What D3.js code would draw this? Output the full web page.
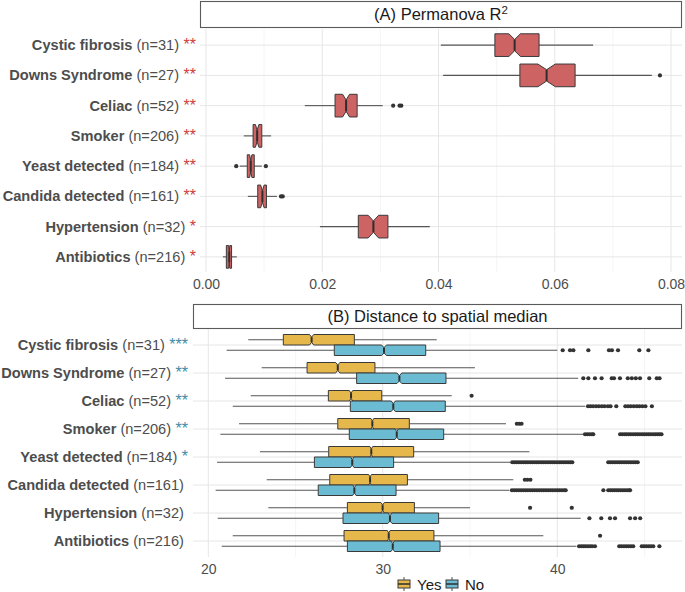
<!DOCTYPE html>
<html>
<head>
<meta charset="utf-8">
<script src="https://cdn.jsdelivr.net/npm/d3@7"></script>
<style>
  html, body { margin: 0; padding: 0; background: #fff; }
  svg { display: block; font-family: "Liberation Sans", Arial, Helvetica, sans-serif; }
</style>
</head>
<body>
<svg id="chart" width="685" height="592"></svg>
<script>
// ---------- data ----------
const categories = ["Cystic fibrosis", "Downs Syndrome", "Celiac", "Smoker", "Yeast detected", "Candida detected", "Hypertension", "Antibiotics"];
const sampleN = [31, 27, 52, 206, 184, 161, 32, 216];
const starsA = ["**", "**", "**", "**", "**", "**", "*", "*"];
const starsB = ["***", "**", "**", "**", "*", "", "", ""];

// Panel A: Permanova R^2 (box stats)
const r2WhiskLo = [0.0404, 0.0408, 0.0170, 0.0065, 0.0058, 0.0072, 0.0196, 0.0029];
const r2Q1      = [0.0497, 0.0540, 0.0222, 0.0081, 0.0071, 0.0089, 0.0262, 0.0035];
const r2Median  = [0.0531, 0.0586, 0.0241, 0.0088, 0.0077, 0.0097, 0.0288, 0.0040];
const r2Q3      = [0.0573, 0.0635, 0.0260, 0.0096, 0.0083, 0.0104, 0.0313, 0.0044];
const r2WhiskHi = [0.0666, 0.0767, 0.0304, 0.0112, 0.0096, 0.0122, 0.0385, 0.0053];
const r2Notch   = [0.0010, 0.0015, 0.0006, 0.0003, 0.0002, 0.0003, 0.0009, 0.0001];
const r2Outliers = [[], [0.0781], [0.0322, 0.0333, 0.0336], [], [0.0052, 0.0103], [0.0129, 0.0132], [], []];
const r2Ticks = [0, 0.02, 0.04, 0.06, 0.08];

// Panel B: Distance to spatial median, group "Yes"
const yesWhiskLo = [22.29, 23.06, 22.43, 21.76, 22.96, 23.35, 23.44, 21.40];
const yesQ1      = [24.30, 25.66, 26.88, 27.42, 26.90, 26.96, 27.97, 27.78];
const yesMedian  = [25.92, 27.42, 28.18, 29.40, 29.34, 29.27, 29.99, 30.34];
const yesQ3      = [28.37, 29.55, 29.94, 31.52, 31.77, 31.41, 31.81, 32.93];
const yesWhiskHi = [33.09, 35.28, 33.95, 37.06, 38.40, 37.48, 35.00, 39.20];
const yesNotch   = [0.12, 0.12, 0.10, 0.08, 0.08, 0.08, 0.10, 0.08];
const yesOutliers = [[], [], [35.09], [37.68, 37.82, 37.95], [], [38.14, 38.29, 38.46], [38.44, 40.83], [42.45]];

// Panel B: group "No"
const noWhiskLo = [21.05, 20.96, 21.40, 20.69, 20.50, 20.42, 20.54, 20.77];
const noQ1      = [27.22, 28.50, 28.14, 28.08, 26.08, 26.30, 27.72, 27.97];
const noMedian  = [30.07, 30.95, 30.60, 30.80, 28.25, 28.37, 30.41, 30.57];
const noQ3      = [32.46, 33.62, 33.58, 33.49, 30.62, 30.76, 33.20, 33.28];
const noWhiskHi = [40.00, 41.20, 41.60, 41.50, 37.30, 37.25, 41.34, 41.10];
const noNotch   = [0.14, 0.14, 0.12, 0.10, 0.10, 0.10, 0.12, 0.10];
const noOutliers = [
  [40.31, 40.73, 40.92, 41.78, 42.96, 43.13, 43.48, 44.70, 45.22],
  [41.49, 41.78, 42.16, 42.54, 43.12, 43.25, 43.59, 44.04, 44.27, 44.50, 44.74, 45.27, 45.70, 45.86],
  [41.76, 41.90, 42.05, 42.22, 42.38, 42.55, 42.71, 42.90, 43.05, 43.38, 43.90, 44.06, 44.21, 44.38, 44.55, 44.70, 44.87, 45.05, 45.42],
  [41.59, 41.72, 41.85, 41.98, 42.06, 43.60, 43.72, 43.85, 43.97, 44.10, 44.22, 44.35, 44.48, 44.60, 44.73, 44.86, 44.98, 45.11, 45.24, 45.36, 45.49, 45.62, 45.74, 45.86, 45.97],
  [37.42, 37.55, 37.68, 37.80, 37.93, 38.06, 38.19, 38.31, 38.44, 38.57, 38.70, 38.83, 38.95, 39.08, 39.21, 39.34, 39.47, 39.60, 39.72, 39.85, 39.98, 40.11, 40.24, 40.37, 40.50, 40.62, 40.75, 40.86,
   42.92, 43.05, 43.18, 43.31, 43.44, 43.57, 43.70, 43.83, 43.96, 44.09, 44.22, 44.35, 44.48, 44.61],
  [37.40, 37.53, 37.66, 37.79, 37.92, 38.05, 38.18, 38.31, 38.44, 38.57, 38.70, 38.83, 38.96, 39.09, 39.22, 39.35, 39.48, 39.61, 39.74, 39.87, 40.00, 40.13, 40.26, 40.39, 40.48,
   42.64, 42.92, 43.04, 43.16, 43.28, 43.40, 43.52, 43.64, 43.76, 43.88, 44.00, 44.12, 44.17],
  [41.84, 42.52, 43.02, 43.31, 44.17, 44.46, 44.75],
  [41.25, 41.38, 41.50, 41.62, 41.75, 41.88, 42.00, 42.16, 43.55, 43.68, 43.82, 43.95, 44.08, 44.22, 44.35, 44.84, 44.97, 45.10, 45.24, 45.37, 45.50, 45.85]
];
const distTicks = [20, 30, 40];
const groups = ["Yes", "No"];

// ---------- styles ----------
const colA = "#CD6363";
const colYes = "#E6B84B";
const colNo = "#6BBCD2";
const starColA = "#CC4040";
const starColB = "#3C8DA8";
const textCol = "#4D4D4D";
const gridMajor = "#E6E6E6";
const gridMinor = "#F2F2F2";
const boxStroke = "#3A3A3A";
const whiskCol = "#555555";

const svg = d3.select("#chart");

function notchedPath(x, q1, q3, med, notch, c, h) {
  const p = d3.path();
  const a = x(q1), b = x(q3), m = x(med);
  const nl = Math.max(a, x(med - notch)), nr = Math.min(b, x(med + notch));
  p.moveTo(a, c - h);
  p.lineTo(nl, c - h);
  p.lineTo(m, c - h / 2);
  p.lineTo(nr, c - h);
  p.lineTo(b, c - h);
  p.lineTo(b, c + h);
  p.lineTo(nr, c + h);
  p.lineTo(m, c + h / 2);
  p.lineTo(nl, c + h);
  p.lineTo(a, c + h);
  p.closePath();
  return p.toString();
}

function drawBox(g, x, s, c, h, fill) {
  g.append("line").attr("x1", x(s.lo)).attr("x2", x(s.q1)).attr("y1", c).attr("y2", c)
    .attr("stroke", whiskCol).attr("stroke-width", 1.1);
  g.append("line").attr("x1", x(s.q3)).attr("x2", x(s.hi)).attr("y1", c).attr("y2", c)
    .attr("stroke", whiskCol).attr("stroke-width", 1.1);
  g.append("path").attr("d", notchedPath(x, s.q1, s.q3, s.med, s.notch, c, h))
    .attr("fill", fill).attr("stroke", boxStroke).attr("stroke-width", 1);
  g.append("line").attr("x1", x(s.med)).attr("x2", x(s.med)).attr("y1", c - h / 2).attr("y2", c + h / 2)
    .attr("stroke", "#2E2E2E").attr("stroke-width", 2);
  s.out.forEach(v => {
    g.append("circle").attr("cx", x(v)).attr("cy", c).attr("r", 2.1).attr("fill", "#333");
  });
}

function drawPanel(opts) {
  const { x, y, left, right, top, bottom, majors, minors } = opts;
  const g = svg.append("g");
  minors.forEach(v => g.append("line").attr("x1", x(v)).attr("x2", x(v)).attr("y1", top).attr("y2", bottom)
    .attr("stroke", gridMinor).attr("stroke-width", 0.8));
  majors.forEach(v => g.append("line").attr("x1", x(v)).attr("x2", x(v)).attr("y1", top).attr("y2", bottom)
    .attr("stroke", gridMajor).attr("stroke-width", 1));
  categories.forEach(cat => g.append("line").attr("x1", left).attr("x2", right)
    .attr("y1", y(cat) + y.bandwidth() / 2).attr("y2", y(cat) + y.bandwidth() / 2)
    .attr("stroke", gridMajor).attr("stroke-width", 1));
  return g;
}

function drawStrip(x0, x1, y0, y1, build) {
  svg.append("rect").attr("x", x0 + 0.5).attr("y", y0 + 0.5).attr("width", x1 - x0 - 1).attr("height", y1 - y0)
    .attr("fill", "#fff").attr("stroke", "#5A5A5A").attr("stroke-width", 1.1);
  const t = svg.append("text").attr("x", (x0 + x1) / 2).attr("y", (y0 + y1) / 2 + 6)
    .attr("text-anchor", "middle").attr("font-size", 16.5).attr("fill", "#1A1A1A");
  build(t);
}

function drawLabels(y, xEnd, stars, starCol) {
  categories.forEach((cat, i) => {
    const t = svg.append("text").attr("x", xEnd).attr("y", y(cat) + y.bandwidth() / 2 + 5)
      .attr("text-anchor", "end").attr("font-size", 14.6).attr("fill", textCol);
    t.append("tspan").attr("font-weight", "bold").text(cat);
    t.append("tspan").text(" (n=" + sampleN[i] + ")");
    if (stars[i]) {
      t.append("tspan").attr("fill", starCol).attr("font-size", 16).text(" " + stars[i]);
    } else {
      t.append("tspan").text("\u00a0");
    }
  });
}

// ---------- Panel A ----------
const xA = d3.scaleLinear().domain([0, 0.08]).range([206, 671]);
const yA = d3.scaleBand().domain(categories).range([30, 272]).paddingInner(0).paddingOuter(0);
drawStrip(200, 682, 1, 27, t => {
  t.append("tspan").text("(A) Permanova R");
  t.append("tspan").attr("font-size", 11.5).attr("dy", -6).text("2");
});
const gA = drawPanel({ x: xA, y: yA, left: 200, right: 682, top: 29, bottom: 272,
  majors: r2Ticks, minors: [0.01, 0.03, 0.05, 0.07] });
categories.forEach((cat, i) => {
  const c = yA(cat) + yA.bandwidth() / 2;
  const h = yA.bandwidth() * 0.75 / 2;
  drawBox(gA, xA, { lo: r2WhiskLo[i], q1: r2Q1[i], med: r2Median[i], q3: r2Q3[i], hi: r2WhiskHi[i],
    notch: r2Notch[i], out: r2Outliers[i] }, c, h, colA);
});
const axA = svg.append("g").attr("transform", "translate(0,272)")
  .call(d3.axisBottom(xA).tickValues(r2Ticks).tickFormat(d3.format(".2f")).tickSize(0).tickPadding(7));
axA.select(".domain").remove();
axA.selectAll("text").attr("font-size", 14).attr("fill", textCol).attr("font-family", "Liberation Sans, Arial, sans-serif");
drawLabels(yA, 196, starsA, starColA);

// ---------- Panel B ----------
const xB = d3.scaleLinear().domain([20, 40]).range([208.3, 557.3]);
const yB = d3.scaleBand().domain(categories).range([331, 555]).paddingInner(0).paddingOuter(0);
drawStrip(193, 682, 304, 328, t => t.text("(B) Distance to spatial median"));
const gB = drawPanel({ x: xB, y: yB, left: 193, right: 682, top: 329, bottom: 557,
  majors: distTicks, minors: [25, 35, 45] });
categories.forEach((cat, i) => {
  const c = yB(cat) + yB.bandwidth() / 2;
  const bw = yB.bandwidth() * 0.75 / 2;  // each dodged box
  const h = bw / 2;
  drawBox(gB, xB, { lo: yesWhiskLo[i], q1: yesQ1[i], med: yesMedian[i], q3: yesQ3[i], hi: yesWhiskHi[i],
    notch: yesNotch[i], out: yesOutliers[i] }, c - bw / 2, h, colYes);
  drawBox(gB, xB, { lo: noWhiskLo[i], q1: noQ1[i], med: noMedian[i], q3: noQ3[i], hi: noWhiskHi[i],
    notch: noNotch[i], out: noOutliers[i] }, c + bw / 2, h, colNo);
});
const axB = svg.append("g").attr("transform", "translate(0,557)")
  .call(d3.axisBottom(xB).tickValues(distTicks).tickFormat(d3.format("d")).tickSize(0).tickPadding(7));
axB.select(".domain").remove();
axB.selectAll("text").attr("font-size", 14).attr("fill", textCol).attr("font-family", "Liberation Sans, Arial, sans-serif");
drawLabels(yB, 188, starsB, starColB);

// ---------- Legend ----------
const legColors = [colYes, colNo];
const legX = [404, 452];
groups.forEach((gname, i) => {
  const cx = legX[i], cy = 584;
  const lg = svg.append("g");
  lg.append("line").attr("x1", cx).attr("x2", cx).attr("y1", cy - 7).attr("y2", cy + 7)
    .attr("stroke", whiskCol).attr("stroke-width", 1);
  lg.append("rect").attr("x", cx - 6).attr("y", cy - 4).attr("width", 12).attr("height", 8)
    .attr("fill", legColors[i]).attr("stroke", boxStroke).attr("stroke-width", 1);
  lg.append("line").attr("x1", cx - 6).attr("x2", cx + 6).attr("y1", cy).attr("y2", cy)
    .attr("stroke", "#2E2E2E").attr("stroke-width", 1.5);
  lg.append("text").attr("x", cx + 13).attr("y", cy + 5.5).attr("font-size", 15).attr("fill", "#1A1A1A").text(gname);
});
</script>
</body>
</html>
